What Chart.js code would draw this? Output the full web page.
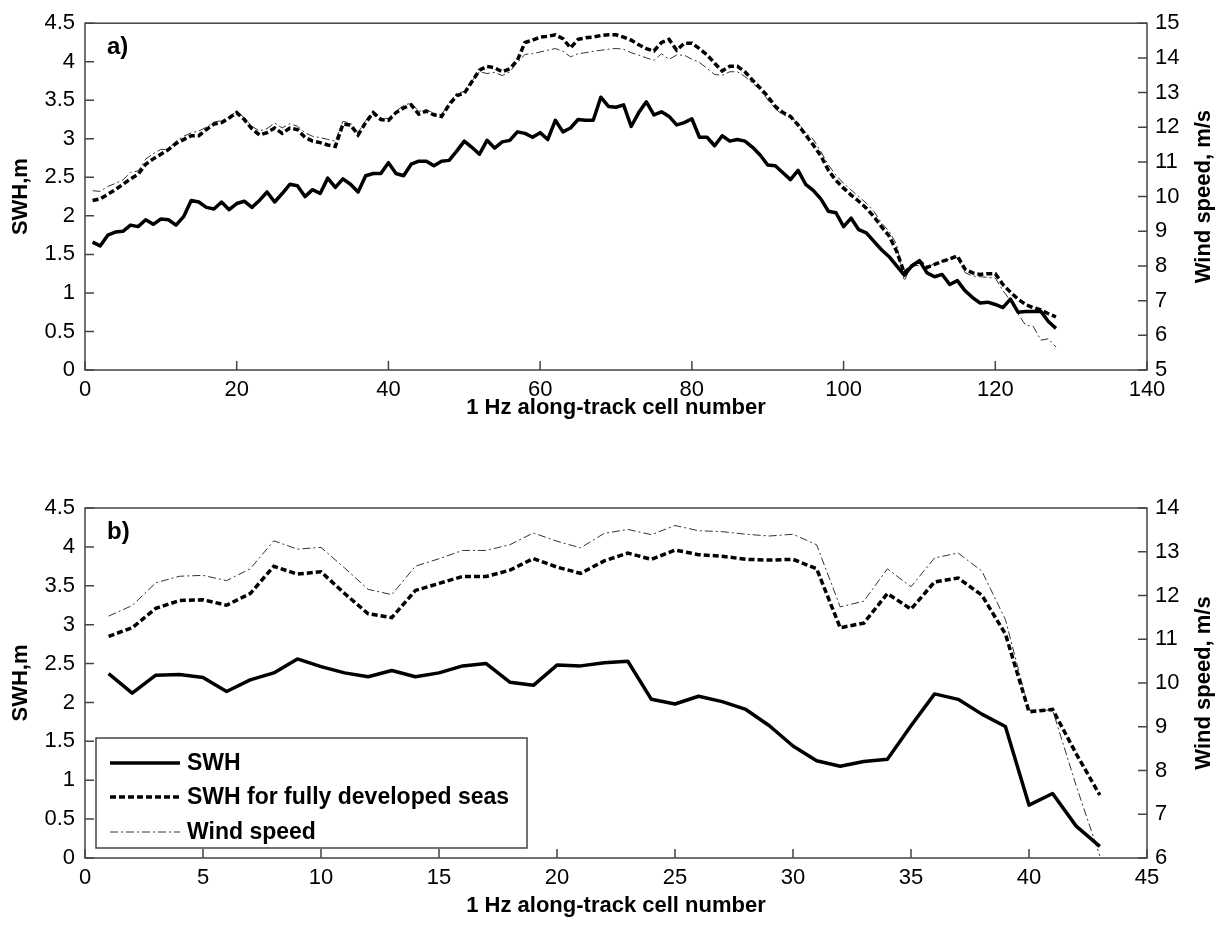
<!DOCTYPE html>
<html>
<head>
<meta charset="utf-8">
<script src="https://cdn.jsdelivr.net/npm/chart.js@4"></script>
<style>
  body { margin: 0; background: #fff; }
  #wrap { position: relative; width: 1223px; height: 932px; }
  canvas { position: absolute; left: 0; }
</style>
</head>
<body>
<div id="wrap">
  <canvas id="chartA" width="1223" height="466" style="top:0"></canvas>
  <canvas id="chartB" width="1223" height="466" style="top:466px"></canvas>
</div>
<script>
// panel a) - 128 cells
const swhA = [1.66, 1.61, 1.75, 1.79, 1.80, 1.88, 1.86, 1.95, 1.89, 1.96,
  1.95, 1.88, 1.99, 2.20, 2.18, 2.11, 2.09, 2.18, 2.08, 2.16,
  2.19, 2.11, 2.20, 2.31, 2.18, 2.29, 2.41, 2.39, 2.25, 2.34,
  2.29, 2.49, 2.37, 2.48, 2.41, 2.31, 2.52, 2.55, 2.55, 2.69,
  2.55, 2.52, 2.67, 2.71, 2.71, 2.65, 2.71, 2.72, 2.84, 2.97,
  2.89, 2.80, 2.98, 2.88, 2.96, 2.98, 3.09, 3.07, 3.02, 3.08,
  2.99, 3.24, 3.09, 3.14, 3.25, 3.24, 3.24, 3.54, 3.42, 3.41,
  3.44, 3.16, 3.34, 3.48, 3.31, 3.35, 3.29, 3.18, 3.21, 3.26,
  3.02, 3.02, 2.91, 3.04, 2.97, 2.99, 2.97, 2.89, 2.79, 2.66,
  2.65, 2.56, 2.47, 2.59, 2.41, 2.33, 2.22, 2.06, 2.04, 1.86,
  1.97, 1.82, 1.78, 1.67, 1.56, 1.47, 1.35, 1.23, 1.35, 1.42,
  1.26, 1.21, 1.24, 1.11, 1.16, 1.03, 0.94, 0.87, 0.88, 0.85,
  0.81, 0.92, 0.75, 0.76, 0.76, 0.76, 0.63, 0.54];
const fdA = [2.20, 2.22, 2.28, 2.34, 2.41, 2.48, 2.54, 2.67, 2.74, 2.80,
  2.86, 2.94, 2.99, 3.04, 3.04, 3.12, 3.19, 3.21, 3.27, 3.34,
  3.25, 3.13, 3.05, 3.08, 3.14, 3.07, 3.14, 3.12, 3.02, 2.97,
  2.95, 2.92, 2.90, 3.19, 3.18, 3.05, 3.21, 3.34, 3.25, 3.24,
  3.34, 3.40, 3.44, 3.32, 3.36, 3.31, 3.29, 3.44, 3.56, 3.59,
  3.74, 3.89, 3.94, 3.92, 3.87, 3.91, 4.02, 4.25, 4.28, 4.32,
  4.33, 4.35, 4.30, 4.18, 4.29, 4.31, 4.32, 4.34, 4.35, 4.35,
  4.32, 4.28, 4.22, 4.17, 4.14, 4.25, 4.29, 4.15, 4.24, 4.24,
  4.17, 4.09, 3.98, 3.88, 3.94, 3.94, 3.87, 3.76, 3.66, 3.55,
  3.42, 3.34, 3.29, 3.18, 3.05, 2.92, 2.78, 2.59, 2.46, 2.36,
  2.27, 2.19, 2.10, 1.99, 1.86, 1.74, 1.54, 1.26, 1.35, 1.41,
  1.33, 1.37, 1.41, 1.44, 1.48, 1.31, 1.26, 1.24, 1.25, 1.25,
  1.11, 1.01, 0.92, 0.85, 0.81, 0.78, 0.73, 0.69];
const windA = [10.17, 10.15, 10.29, 10.38, 10.48, 10.70, 10.74, 11.08, 11.24, 11.36,
  11.36, 11.60, 11.74, 11.84, 11.89, 12.00, 12.15, 12.19, 12.29, 12.46,
  12.27, 12.03, 11.89, 11.96, 12.12, 11.98, 12.10, 12.03, 11.84, 11.74,
  11.70, 11.65, 11.60, 12.17, 12.12, 11.84, 12.19, 12.46, 12.27, 12.25,
  12.46, 12.63, 12.70, 12.46, 12.50, 12.41, 12.36, 12.70, 12.98, 13.03,
  13.33, 13.60, 13.55, 13.58, 13.49, 13.60, 13.87, 14.10, 14.12, 14.17,
  14.22, 14.27, 14.19, 14.03, 14.12, 14.15, 14.19, 14.22, 14.25, 14.27,
  14.25, 14.15, 14.08, 14.00, 13.93, 14.12, 13.96, 14.08, 14.08, 13.96,
  13.87, 13.70, 13.52, 13.50, 13.60, 13.60, 13.46, 13.27, 13.08, 12.79,
  12.53, 12.36, 12.31, 12.12, 11.84, 11.65, 11.30, 10.91, 10.62, 10.38,
  10.19, 10.00, 9.81, 9.57, 9.24, 9.00, 8.62, 7.57, 8.05, 8.00,
  7.95, 8.07, 8.14, 8.19, 8.24, 7.81, 7.71, 7.69, 7.67, 7.65,
  7.29, 7.00, 6.62, 6.29, 6.26, 5.86, 5.90, 5.66];

// panel b) - 43 cells
const swhB = [2.37, 2.12, 2.35, 2.36, 2.32, 2.14, 2.29, 2.38, 2.56, 2.46,
  2.38, 2.33, 2.41, 2.33, 2.38, 2.47, 2.50, 2.26, 2.22, 2.48,
  2.47, 2.51, 2.53, 2.04, 1.98, 2.08, 2.01, 1.91, 1.70, 1.44,
  1.25, 1.18, 1.24, 1.27, 1.70, 2.11, 2.04, 1.85, 1.69, 0.68,
  0.83, 0.41, 0.15];
const fdB = [2.85, 2.96, 3.21, 3.31, 3.32, 3.25, 3.40, 3.75, 3.65, 3.68,
  3.40, 3.14, 3.09, 3.44, 3.53, 3.62, 3.62, 3.70, 3.85, 3.74,
  3.66, 3.82, 3.92, 3.84, 3.96, 3.90, 3.88, 3.84, 3.83, 3.84,
  3.72, 2.96, 3.02, 3.40, 3.20, 3.55, 3.60, 3.38, 2.88, 1.88,
  1.91, 1.34, 0.81];
const windB = [11.53, 11.77, 12.29, 12.44, 12.46, 12.34, 12.61, 13.25, 13.06, 13.10,
  12.63, 12.14, 12.02, 12.67, 12.84, 13.03, 13.03, 13.16, 13.43, 13.24,
  13.09, 13.42, 13.51, 13.39, 13.60, 13.48, 13.46, 13.40, 13.36, 13.40,
  13.16, 11.74, 11.87, 12.61, 12.20, 12.86, 12.97, 12.56, 11.45, 9.38,
  9.38, 7.65, 6.05];

const cellsA = Array.from({length: swhA.length}, (_, i) => i + 1);
const cellsB = Array.from({length: swhB.length}, (_, i) => i + 1);

const seriesNames = ['SWH', 'SWH for fully developed seas', 'Wind speed'];
const xTitle = '1 Hz along-track cell number';
const yTitle = 'SWH,m';
const y2Title = 'Wind speed, m/s';

const FONT = "'Liberation Sans', Arial, Helvetica, sans-serif";
const frameColor = '#444';
const tickFont = { family: FONT, size: 22 };
const titleFont = { family: FONT, size: 22, weight: 'bold' };
// 4 instead of 4.0, like the original
const plainTick = v => String(Number(v.toFixed(1)));

// frame, inward tick marks, panel letter, right title and legend
const framePlugin = {
  id: 'frame',
  afterDatasetsDraw(chart, args, opts) {
    const { ctx, chartArea: a, scales } = chart;
    ctx.save();
    ctx.strokeStyle = frameColor;
    ctx.lineWidth = 1.5;
    ctx.setLineDash([]);
    ctx.strokeRect(a.left, a.top, a.right - a.left, a.bottom - a.top);
    ctx.beginPath();
    scales.x.ticks.forEach(t => {
      const px = scales.x.getPixelForValue(t.value);
      ctx.moveTo(px, a.bottom); ctx.lineTo(px, a.bottom - 9);
    });
    scales.y.ticks.forEach(t => {
      const py = scales.y.getPixelForValue(t.value);
      ctx.moveTo(a.left, py); ctx.lineTo(a.left + 9, py);
    });
    scales.y2.ticks.forEach(t => {
      const py = scales.y2.getPixelForValue(t.value);
      ctx.moveTo(a.right, py); ctx.lineTo(a.right - 9, py);
    });
    ctx.stroke();

    ctx.fillStyle = '#000';
    ctx.font = `bold 24px ${FONT}`;
    ctx.textAlign = 'left';
    ctx.textBaseline = 'alphabetic';
    ctx.fillText(opts.letter, a.left + 22, a.top + 31);

    // right axis title reads bottom to top
    ctx.save();
    ctx.translate(1204, (a.top + a.bottom) / 2);
    ctx.rotate(-Math.PI / 2);
    ctx.textAlign = 'center';
    ctx.textBaseline = 'middle';
    ctx.font = `bold 22px ${FONT}`;
    ctx.fillText(y2Title, 0, 0);
    ctx.restore();

    if (opts.legend) {
      const bx = a.left + 11, by = a.bottom - 120, bw = 431, bh = 110;
      ctx.fillStyle = '#fff';
      ctx.fillRect(bx, by, bw, bh);
      ctx.strokeStyle = frameColor;
      ctx.lineWidth = 1.5;
      ctx.strokeRect(bx, by, bw, bh);
      const rows = [25, 59, 94];
      chart.data.datasets.forEach((ds, i) => {
        const yy = by + rows[i];
        ctx.beginPath();
        ctx.strokeStyle = ds.borderColor;
        ctx.lineWidth = ds.borderWidth;
        ctx.setLineDash(ds.borderDash || []);
        ctx.moveTo(bx + 14, yy);
        ctx.lineTo(bx + 84, yy);
        ctx.stroke();
        ctx.setLineDash([]);
        ctx.fillStyle = '#000';
        ctx.font = `bold 23px ${FONT}`;
        ctx.textAlign = 'left';
        ctx.textBaseline = 'middle';
        ctx.fillText(ds.label, bx + 91, yy + 1);
      });
    }
    ctx.restore();
  }
};

function makeDatasets(swh, fd, wind) {
  return [
    { label: seriesNames[0], data: swh, yAxisID: 'y', borderColor: '#000', borderWidth: 3.5,
      borderJoinStyle: 'round', pointRadius: 0, tension: 0, order: 0 },
    { label: seriesNames[1], data: fd, yAxisID: 'y', borderColor: '#000', borderWidth: 3.5,
      borderDash: [6, 3], pointRadius: 0, tension: 0, order: 1 },
    { label: seriesNames[2], data: wind, yAxisID: 'y2', borderColor: '#333', borderWidth: 1,
      borderDash: [8, 3, 2, 3], pointRadius: 0, tension: 0, order: 2 }
  ];
}

function makeChart(id, cells, swh, fd, wind, o) {
  return new Chart(document.getElementById(id), {
    type: 'line',
    data: { labels: cells, datasets: makeDatasets(swh, fd, wind) },
    options: {
      responsive: false,
      animation: false,
      devicePixelRatio: 1,
      layout: { padding: { top: o.padTop, left: 0, right: 0, bottom: 0 } },
      plugins: {
        legend: { display: false },
        tooltip: { enabled: false },
        frame: { letter: o.letter, legend: o.legend }
      },
      scales: {
        x: {
          type: 'linear', min: 0, max: o.xMax,
          ticks: { stepSize: o.xStep, padding: 7, font: tickFont, color: '#000', maxRotation: 0, autoSkip: false },
          grid: { display: false, drawTicks: false },
          border: { display: false },
          title: { display: true, text: xTitle, font: titleFont, color: '#000', padding: { top: 0, bottom: o.xTitlePad } },
          afterFit: s => { s.height = o.xHeight; }
        },
        y: {
          position: 'left', min: 0, max: 4.5,
          ticks: { stepSize: 0.5, padding: 10, font: tickFont, color: '#000', autoSkip: false, callback: plainTick },
          grid: { display: false, drawTicks: false },
          border: { display: false },
          title: { display: true, text: yTitle, font: titleFont, color: '#000', padding: { top: 8, bottom: 0 } },
          afterFit: s => { s.width = 85; }
        },
        y2: {
          position: 'right', min: o.y2Min, max: o.y2Max,
          ticks: { stepSize: 1, padding: 8, font: tickFont, color: '#000', autoSkip: false, callback: plainTick },
          grid: { display: false, drawTicks: false },
          border: { display: false },
          afterFit: s => { s.width = 76; }
        }
      }
    },
    plugins: [framePlugin]
  });
}

makeChart('chartA', cellsA, swhA, fdA, windA,
  { letter: 'a)', legend: false, padTop: 20, xMax: 140, xStep: 20, xHeight: 96, xTitlePad: 45, y2Min: 5, y2Max: 15 });
makeChart('chartB', cellsB, swhB, fdB, windB,
  { letter: 'b)', legend: true, padTop: 42, xMax: 45, xStep: 5, xHeight: 74, xTitlePad: 13, y2Min: 6, y2Max: 14 });
</script>
</body>
</html>
